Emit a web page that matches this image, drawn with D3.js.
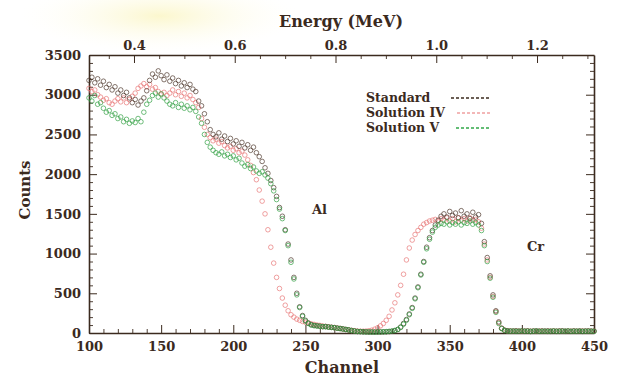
<!DOCTYPE html>
<html><head><meta charset="utf-8">
<script src="https://cdn.jsdelivr.net/npm/d3@7"></script>
<style>html,body{margin:0;padding:0;background:#fff;}svg{display:block;}</style>
</head><body>
<svg id="chart" width="623" height="378"></svg>
<script>
const channels = [100,102,104,106,108,110,112,114,116,118,120,122,124,126,128,130,132,134,136,138,140,142,144,146,148,150,152,154,156,158,160,162,164,166,168,170,172,174,176,178,180,182,184,186,188,190,192,194,196,198,200,202,204,206,208,210,212,214,216,218,220,222,224,226,228,230,232,234,236,238,240,242,244,246,248,250,252,254,256,258,260,262,264,266,268,270,272,274,276,278,280,282,284,286,288,290,292,294,296,298,300,302,304,306,308,310,312,314,316,318,320,322,324,326,328,330,332,334,336,338,340,342,344,346,348,350,352,354,356,358,360,362,364,366,368,370,372,374,376,378,380,382,384,386,388,390,392,394,396,398,400,402,404,406,408,410,412,414,416,418,420,422,424,426,428,430,432,434,436,438,440,442,444,446,448,450];

const standard = [3180,3220,3150,3200,3120,3170,3090,3130,3060,3100,3020,3060,2990,3030,2960,2900,2940,2870,2920,2960,3050,3180,3260,3220,3300,3240,3190,3250,3170,3210,3140,3180,3110,3150,3090,3130,3070,3040,2920,2860,2760,2660,2560,2500,2470,2520,2440,2480,2410,2450,2380,2420,2350,2400,2330,2370,2300,2340,2270,2220,2160,2080,2010,1920,1830,1720,1580,1470,1300,1120,920,700,500,330,220,160,125,105,95,90,85,80,82,75,72,68,62,58,52,45,40,32,26,20,18,15,14,12,12,11,12,12,14,15,18,22,30,45,75,120,170,240,320,440,580,740,900,1080,1200,1290,1360,1420,1470,1500,1460,1530,1480,1510,1450,1540,1470,1500,1440,1520,1460,1490,1380,1150,950,720,480,280,140,60,35,
  28,25,24,27,22,26,23,25,21,24,27,22,25,23,26,21,24,22,25,27,23,24,21,26,23,25,22,24,26,23,24];

const solutionIV = [3080,3040,3060,3000,2970,2930,2950,2900,2880,2920,2950,2910,2960,2900,2940,2980,3020,3080,3110,3140,3100,3130,3070,3090,3040,3010,3030,2990,3020,3060,3000,3040,2980,3020,2960,2990,2940,2900,2840,2700,2590,2500,2460,2420,2440,2390,2410,2360,2330,2350,2300,2320,2270,2290,2240,2180,2110,2020,1930,1800,1660,1500,1300,1080,880,700,560,440,350,280,230,200,175,160,145,135,125,115,108,100,95,88,82,78,72,68,62,56,50,44,38,32,28,24,22,22,24,28,35,48,65,90,120,160,210,290,380,480,600,740,920,1070,1170,1240,1290,1330,1370,1390,1410,1420,1430,1410,1440,1420,1450,1410,1440,1400,1450,1420,1440,1410,1450,1420,1430,1400,1320,1120,920,700,460,270,130,60,35,
  27,25,23,26,24,22,25,27,23,24,21,25,26,22,24,23,27,22,25,24,21,26,23,25,22,24,26,23,25,22,24];

const solutionV = [2960,2920,2990,2880,2900,2830,2780,2800,2740,2760,2700,2720,2660,2690,2640,2670,2650,2700,2660,2780,2880,2930,2990,3020,2970,3010,2960,2920,2880,2860,2900,2840,2880,2830,2860,2810,2840,2790,2720,2640,2500,2400,2340,2300,2270,2250,2280,2230,2250,2210,2230,2180,2200,2140,2100,2120,2070,2090,2040,2010,2030,1990,1950,1880,1790,1680,1560,1440,1290,1100,890,680,480,320,210,150,120,100,92,88,85,80,78,74,70,66,60,55,50,44,38,30,24,19,17,15,14,13,12,12,13,14,15,17,20,25,32,45,70,110,160,230,310,430,570,730,890,1060,1180,1270,1330,1360,1380,1370,1400,1360,1390,1370,1400,1360,1390,1380,1410,1370,1390,1360,1290,1100,900,690,450,260,120,55,32,
  24,22,25,21,23,26,22,24,20,23,25,21,22,24,20,23,25,22,21,24,22,26,21,23,22,24,21,23,22,24,21];

const seriesNames = ["Standard", "Solution IV", "Solution V"];
const yTicks = [0,500,1000,1500,2000,2500,3000,3500];
const xTicks = [100,150,200,250,300,350,400,450];
const energyTicks = [0.4,0.6,0.8,1.0,1.2];
const energyDomain = [0.3107, 1.3131];

const svg = d3.select("#chart");
const W = 623, H = 378;
const L = 89, R = 594, T = 55, B = 333;
const ink = "#3b2a1e";
const fontSerif = "'DejaVu Serif', 'Liberation Serif', serif";

const defs = svg.append("defs");
const rg = defs.append("radialGradient").attr("id","glow").attr("cx","0.5").attr("cy","0.5").attr("r","0.5");
rg.append("stop").attr("offset","0%").attr("stop-color","#fbf6c8").attr("stop-opacity",0.9);
rg.append("stop").attr("offset","100%").attr("stop-color","#fffef5").attr("stop-opacity",0);
svg.append("rect").attr("width",W).attr("height",H).attr("fill","#fff");
svg.append("ellipse").attr("cx",160).attr("cy",16).attr("rx",140).attr("ry",36).attr("fill","url(#glow)");

const x = d3.scaleLinear().domain([100,450]).range([L,R]);
const y = d3.scaleLinear().domain([0,3500]).range([B,T]);
const xE = d3.scaleLinear().domain(energyDomain).range([L,R]);

function styleAxis(g){
  g.selectAll(".domain").attr("stroke",ink).attr("stroke-width",1.6);
  g.selectAll(".tick line").attr("stroke",ink).attr("stroke-width",1);
  g.selectAll(".tick text").attr("fill",ink).attr("font-family",fontSerif).attr("font-size",13).attr("font-weight","bold");
}
function minor(g){
  g.select(".domain").remove();
  g.selectAll(".tick line").attr("stroke",ink).attr("stroke-width",0.9);
}
const minorY = d3.range(0,3501,100).filter(v=>v%500!==0);
const minorX = d3.range(100,451,10).filter(v=>v%50!==0);
const minorE = [0.35,0.45,0.5,0.55,0.65,0.7,0.75,0.85,0.9,0.95,1.05,1.1,1.15,1.25,1.3];

svg.append("g").attr("transform",`translate(${L},0)`).call(d3.axisLeft(y).tickValues(minorY).tickSize(-4).tickFormat("")).call(minor);
svg.append("g").attr("transform",`translate(${R},0)`).call(d3.axisRight(y).tickValues(minorY).tickSize(-4).tickFormat("")).call(minor);
svg.append("g").attr("transform",`translate(0,${B})`).call(d3.axisBottom(x).tickValues(minorX).tickSize(-4).tickFormat("")).call(minor);
svg.append("g").attr("transform",`translate(0,${T})`).call(d3.axisTop(xE).tickValues(minorE).tickSize(-4).tickFormat("")).call(minor);

svg.append("g").attr("transform",`translate(${L},0)`)
  .call(d3.axisLeft(y).tickValues(yTicks).tickSize(-8).tickPadding(8).tickFormat(d3.format("d")).tickSizeOuter(0)).call(styleAxis);
svg.append("g").attr("transform",`translate(${R},0)`)
  .call(d3.axisRight(y).tickValues(yTicks).tickSize(-8).tickFormat("").tickSizeOuter(0)).call(styleAxis);
svg.append("g").attr("transform",`translate(0,${B})`)
  .call(d3.axisBottom(x).tickValues(xTicks).tickSize(-8).tickPadding(9).tickFormat(d3.format("d")).tickSizeOuter(0)).call(styleAxis);
svg.append("g").attr("transform",`translate(0,${T})`)
  .call(d3.axisTop(xE).tickValues(energyTicks).tickSize(-8).tickPadding(5).tickFormat(d3.format(".1f")).tickSizeOuter(0)).call(styleAxis);

svg.append("text").attr("x",341).attr("y",27).attr("text-anchor","middle")
  .attr("font-family",fontSerif).attr("font-size",16).attr("font-weight","bold").attr("fill",ink).text("Energy (MeV)");
svg.append("text").attr("x",342).attr("y",373).attr("text-anchor","middle")
  .attr("font-family",fontSerif).attr("font-size",16).attr("font-weight","bold").attr("fill",ink).text("Channel");
svg.append("text").attr("transform","translate(30,190) rotate(-90)").attr("text-anchor","middle")
  .attr("font-family",fontSerif).attr("font-size",15).attr("font-weight","bold").attr("fill",ink).text("Counts");

const series = [
  {name: seriesNames[1], values: solutionIV, color: "#e87474"},
  {name: seriesNames[0], values: standard, color: "#4a3428"},
  {name: seriesNames[2], values: solutionV, color: "#2e9e40"}
];
const plot = svg.append("g");
series.forEach(s=>{
  plot.append("g").selectAll("circle").data(channels.map((c,i)=>[c,s.values[i]]))
    .join("circle")
    .attr("cx",d=>x(d[0])).attr("cy",d=>y(d[1])).attr("r",2.3)
    .attr("fill","none").attr("stroke",s.color).attr("stroke-width",0.8).attr("stroke-opacity",0.85);
});

svg.append("text").attr("x",312).attr("y",214).attr("font-family",fontSerif).attr("font-size",13).attr("font-weight","bold").attr("fill",ink).text("Al");
svg.append("text").attr("x",527).attr("y",251).attr("font-family",fontSerif).attr("font-size",13).attr("font-weight","bold").attr("fill",ink).text("Cr");

const legend = [
  {name: seriesNames[0], color: "#3b2a1e", y: 102, x1: 451},
  {name: seriesNames[1], color: "#f0a0a0", y: 117, x1: 457},
  {name: seriesNames[2], color: "#30a848", y: 132, x1: 456}
];
legend.forEach(l=>{
  svg.append("text").attr("x",366).attr("y",l.y).attr("font-family",fontSerif).attr("font-size",12.5).attr("font-weight","bold").attr("fill",ink).text(l.name);
  svg.append("line").attr("x1",l.x1).attr("x2",490).attr("y1",l.y-4).attr("y2",l.y-4)
    .attr("stroke",l.color).attr("stroke-width",1.3).attr("stroke-dasharray","3,2");
});
</script>
</body></html>
